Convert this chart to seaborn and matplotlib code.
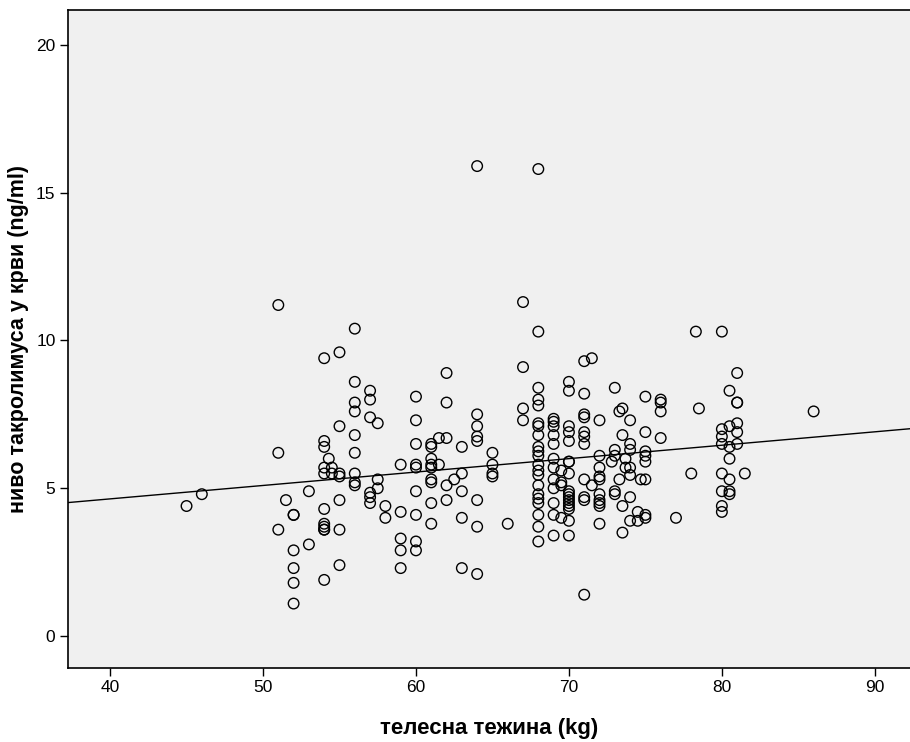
import numpy as np
import pandas as pd
import matplotlib
matplotlib.use("Agg")
import matplotlib.pyplot as plt
import seaborn as sns

# --- data: body weight (kg) -> tacrolimus levels (ng/ml) ---
weights = [45, 46, 51, 51.5, 52, 53, 54, 54.3, 54.5, 55, 56, 57, 57.5, 58, 59, 60,
           61, 61.5, 62, 62.5, 63, 64, 65, 66, 67, 68, 69, 69.5, 70, 71, 71.5,
           72, 72.8, 73, 73.3, 73.5, 73.7, 74, 74.5, 74.7, 75, 76, 77, 78, 78.3,
           78.5, 80, 80.5, 81, 81.5, 86]

levels = [
    [4.4],
    [4.8],
    [11.2, 6.2, 3.6],
    [4.6],
    [4.1, 4.1, 2.9, 2.3, 1.8, 1.1],
    [4.9, 3.1],
    [9.4, 6.6, 6.4, 5.7, 5.5, 4.3, 3.8, 3.7, 3.6, 3.6, 1.9],
    [6.0],
    [5.7, 5.5],
    [9.6, 7.1, 5.5, 5.4, 4.6, 3.6, 2.4],
    [10.4, 8.6, 7.9, 7.6, 6.8, 6.2, 5.5, 5.2, 5.1],
    [8.3, 8.0, 7.4, 4.85, 4.7, 4.5],
    [7.2, 5.3, 5.0],
    [4.4, 4.0],
    [5.8, 4.2, 3.3, 2.9, 2.3],
    [8.1, 7.3, 6.5, 5.8, 5.7, 4.9, 4.1, 3.2, 2.9],
    [6.5, 6.4, 6.0, 5.8, 5.7, 5.3, 5.2, 4.5, 3.8],
    [6.7, 5.8],
    [8.9, 7.9, 6.7, 5.1, 4.6],
    [5.3],
    [6.4, 5.5, 4.9, 4.0, 2.3],
    [15.9, 7.5, 7.1, 6.75, 6.6, 4.6, 3.7, 2.1],
    [6.2, 5.8, 5.5, 5.4],
    [3.8],
    [11.3, 9.1, 7.7, 7.3],
    [15.8, 10.3, 8.4, 8.0, 7.8, 7.2, 7.1, 6.8, 6.4, 6.25, 6.1, 5.8, 5.6, 5.45,
     5.1, 4.8, 4.65, 4.5, 4.1, 3.7, 3.2],
    [7.35, 7.25, 7.1, 6.8, 6.5, 6.0, 5.7, 5.3, 5.0, 4.5, 4.1, 3.4],
    [5.6, 5.2, 5.1, 4.0],
    [8.6, 8.3, 7.1, 6.9, 6.6, 5.9, 5.9, 5.5, 4.9, 4.8, 4.7, 4.6, 4.5, 4.4, 4.3,
     3.9, 3.4],
    [9.3, 8.2, 7.5, 7.4, 6.9, 6.75, 6.5, 5.3, 4.7, 4.6, 1.4],
    [9.4, 5.1],
    [7.3, 6.1, 5.7, 5.4, 5.3, 4.8, 4.6, 4.5, 4.4, 3.8],
    [5.9],
    [8.4, 6.3, 6.1, 4.9, 4.8],
    [7.6, 5.3],
    [7.7, 6.8, 4.4, 3.5],
    [6.0, 5.7],
    [7.3, 6.5, 6.3, 5.7, 5.45, 4.7, 3.9],
    [4.2, 3.9],
    [5.3],
    [8.1, 6.9, 6.25, 6.1, 5.9, 5.3, 4.1, 4.0],
    [8.0, 7.9, 7.6, 6.7],
    [4.0],
    [5.5],
    [10.3],
    [7.7],
    [10.3, 7.0, 6.75, 6.5, 5.5, 4.9, 4.4, 4.2],
    [8.3, 7.1, 6.4, 6.0, 5.3, 4.8, 4.9],
    [8.9, 7.9, 7.9, 7.2, 6.9, 6.5],
    [5.5],
    [7.6],
]

x_ticks = [40, 50, 60, 70, 80, 90]
y_ticks = [0, 5, 10, 15, 20]

df = pd.DataFrame(
    [(w, v) for w, vals in zip(weights, levels) for v in vals],
    columns=["weight", "level"],
)

sns.set_style("white")
plt.rcParams["font.family"] = ["Liberation Sans", "DejaVu Sans"]
plt.rcParams["text.color"] = "black"
plt.rcParams["axes.labelcolor"] = "black"
plt.rcParams["xtick.color"] = "black"
plt.rcParams["ytick.color"] = "black"

fig = plt.figure(figsize=(9.1, 7.42), dpi=100)
ax = fig.add_axes([68 / 910, 74 / 742, 842 / 910, 658 / 742])
ax.set_facecolor("#f0f0f0")
ax.set_xlim(37.25, 92.3)
ax.set_ylim(-1.08, 21.18)

sns.scatterplot(data=df, x="weight", y="level", ax=ax, s=58,
                facecolors="none", edgecolor="black", linewidth=1.0, zorder=3)
# linear fit line across the whole axis, like SPSS "fit line at total"
sns.regplot(data=df, x="weight", y="level", ax=ax, scatter=False, ci=None,
            truncate=False, color="black", line_kws={"linewidth": 1.0})
ax.set_xlim(37.25, 92.3)

ax.set_xticks(x_ticks)
ax.set_yticks(y_ticks)
ax.tick_params(axis="both", direction="out", length=6, width=1, color="black",
               labelcolor="black", labelsize=12.5, bottom=True, left=True, pad=3)
for side in ["left", "bottom", "top"]:
    ax.spines[side].set_color("black")
    ax.spines[side].set_linewidth(1.2)
ax.spines["right"].set_visible(False)

ax.set_xlabel("телесна тежина (kg)", fontsize=16, fontweight="bold", labelpad=16)
ax.set_ylabel("ниво такролимуса у крви (ng/ml)", fontsize=15.5, fontweight="bold", labelpad=5)

fig.savefig("out.png", dpi=100, facecolor="white")
